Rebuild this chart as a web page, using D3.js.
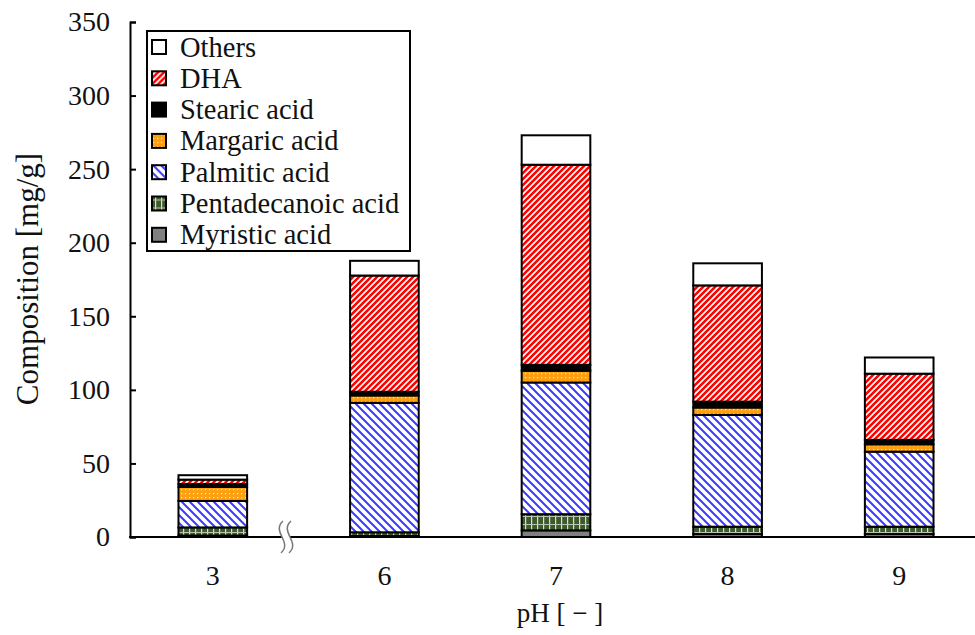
<!DOCTYPE html>
<html>
<head>
<meta charset="utf-8">
<script src="https://cdn.jsdelivr.net/npm/d3@7"></script>
<style>
  html, body { margin: 0; padding: 0; background: #fff; }
  svg { display: block; }
  svg text { font-family: "Liberation Serif", "DejaVu Serif", serif; fill: #111; }
</style>
</head>
<body>
<svg id="chart" width="975" height="635"></svg>
<script>
// Fatty acid composition by pH (mg/g), stacked bottom to top
const categories = ["3", "6", "7", "8", "9"];
const seriesNames = ["Myristic acid", "Pentadecanoic acid", "Palmitic acid", "Margaric acid", "Stearic acid", "DHA", "Others"];
const myristic      = [1.0, 0.7, 4.5, 2.0, 2.0];
const pentadecanoic = [5.5, 2.5, 11.0, 5.0, 5.0];
const palmitic      = [18.0, 88.0, 89.5, 76.0, 51.0];
const margaric      = [9.5, 5.0, 8.0, 5.0, 5.0];
const stearic       = [2.0, 2.5, 4.0, 4.0, 3.0];
const dha           = [3.0, 79.0, 136.0, 79.0, 45.0];
const others        = [3.0, 10.0, 20.0, 15.0, 11.0];
const yTicks = [0, 50, 100, 150, 200, 250, 300, 350];

const seriesValues = [myristic, pentadecanoic, palmitic, margaric, stearic, dha, others];
const rows = categories.map((c, i) => {
  const r = { ph: c };
  seriesNames.forEach((s, k) => { r[s] = seriesValues[k][i]; });
  return r;
});

const FONT = '"Liberation Serif", "DejaVu Serif", serif';
const svg = d3.select("#chart");
const defs = svg.append("defs");

// Fill patterns
function pat(id, w, h, build) {
  const p = defs.append("pattern").attr("id", id)
    .attr("patternUnits", "userSpaceOnUse").attr("width", w).attr("height", h);
  build(p);
}
pat("pDHA", 6, 6, p => {
  p.append("rect").attr("width", 6).attr("height", 6).attr("fill", "#fff");
  p.append("path").attr("d", "M0,6 L6,0 M-1.5,1.5 L1.5,-1.5 M4.5,7.5 L7.5,4.5")
    .attr("stroke", "#ff0000").attr("stroke-width", 2.6);
});
pat("pPalm", 8, 8, p => {
  p.append("rect").attr("width", 8).attr("height", 8).attr("fill", "#fff");
  p.append("path").attr("d", "M0,0 L8,8 M-2,6 L2,10 M6,-2 L10,2")
    .attr("stroke", "#3b3bff").attr("stroke-width", 2);
});
pat("pMarg", 4, 4, p => {
  p.append("rect").attr("width", 4).attr("height", 4).attr("fill", "#ffa010");
  p.append("rect").attr("x", 1).attr("y", 1).attr("width", 1.2).attr("height", 1.2).attr("fill", "#ffe9c0");
});
pat("pPenta", 6, 8, p => {
  p.append("rect").attr("width", 6).attr("height", 8).attr("fill", "#3c5a2c");
  p.append("rect").attr("x", 3).attr("y", 0).attr("width", 1.2).attr("height", 8).attr("fill", "#d8e0d0");
  p.append("rect").attr("x", 0).attr("y", 4).attr("width", 6).attr("height", 1).attr("fill", "#b8c4b0");
});

const fills = {
  "Myristic acid": "#808080",
  "Pentadecanoic acid": "url(#pPenta)",
  "Palmitic acid": "url(#pPalm)",
  "Margaric acid": "url(#pMarg)",
  "Stearic acid": "#000000",
  "DHA": "url(#pDHA)",
  "Others": "#ffffff"
};

const x = d3.scaleBand().domain(categories).range([127, 985]).paddingInner(0.6).paddingOuter(0.3);
const y = d3.scaleLinear().domain([0, 350]).range([537, 22]);

const stack = d3.stack().keys(seriesNames);
const layers = stack(rows);

// Bars
const gBars = svg.append("g");
layers.forEach(layer => {
  gBars.append("g").selectAll("rect").data(layer).join("rect")
    .attr("x", d => x(d.data.ph))
    .attr("width", x.bandwidth())
    .attr("y", d => y(d[1]))
    .attr("height", d => y(d[0]) - y(d[1]))
    .attr("fill", fills[layer.key])
    .attr("stroke", "#000")
    .attr("stroke-width", 2);
});

// Y axis with inward ticks
const yAxis = svg.append("g").attr("transform", "translate(130,0)")
  .call(d3.axisLeft(y).tickValues(yTicks).tickSize(-6).tickPadding(20).tickFormat(d3.format("d")));
yAxis.attr("font-family", FONT);
yAxis.select(".domain").attr("stroke", "#000").attr("stroke-width", 2);
yAxis.selectAll(".tick line").attr("stroke", "#000").attr("stroke-width", 2);
yAxis.selectAll(".tick text").attr("font-size", 28).attr("fill", "#111");

// X axis (category labels, no ticks)
const xAxis = svg.append("g").attr("transform", "translate(0,537)")
  .call(d3.axisBottom(x).tickSize(0).tickPadding(28));
xAxis.attr("font-family", FONT);
xAxis.select(".domain").remove();
xAxis.selectAll(".tick text").attr("font-size", 28).attr("fill", "#111");
svg.append("line").attr("x1", 129).attr("x2", 975).attr("y1", 537).attr("y2", 537)
  .attr("stroke", "#000").attr("stroke-width", 2);

// Axis break mark between pH 3 and pH 6
const bx = 285, by = 537;
const wave = (dx) => `M${bx + dx - 2},${by - 16} C${bx + dx - 14},${by - 5} ${bx + dx + 8},${by + 5} ${bx + dx - 4},${by + 16}`;
svg.append("path")
  .attr("d", `${wave(0)} L${bx + 4},${by + 16} C${bx + 16},${by + 5} ${bx - 6},${by - 5} ${bx + 6},${by - 16} Z`)
  .attr("fill", "#fff").attr("stroke", "none");
svg.append("path").attr("d", wave(0)).attr("fill", "none").attr("stroke", "#777").attr("stroke-width", 1.5);
svg.append("path").attr("d", wave(8)).attr("fill", "none").attr("stroke", "#777").attr("stroke-width", 1.5);

// Axis titles
svg.append("text").attr("x", 560).attr("y", 622).attr("text-anchor", "middle")
  .attr("font-family", FONT).attr("font-size", 27).text("pH [ − ]");
svg.append("text").attr("transform", "translate(38,279) rotate(-90)").attr("text-anchor", "middle")
  .attr("font-family", FONT).attr("font-size", 31).text("Composition [mg/g]");

// Legend
const legendOrder = seriesNames.slice().reverse();
const lg = svg.append("g");
lg.append("rect").attr("x", 147).attr("y", 31).attr("width", 263).attr("height", 220)
  .attr("fill", "#fff").attr("stroke", "#000").attr("stroke-width", 2);
const item = lg.selectAll("g.item").data(legendOrder).join("g")
  .attr("class", "item")
  .attr("transform", (d, i) => `translate(152,${47 + i * 31.3})`);
item.append("rect").attr("x", 0).attr("y", -7).attr("width", 14).attr("height", 14)
  .attr("fill", d => fills[d]).attr("stroke", "#000").attr("stroke-width", 2);
item.append("text").attr("x", 28).attr("y", 9.5).attr("font-family", FONT).attr("font-size", 28.5).text(d => d);
</script>
</body>
</html>
